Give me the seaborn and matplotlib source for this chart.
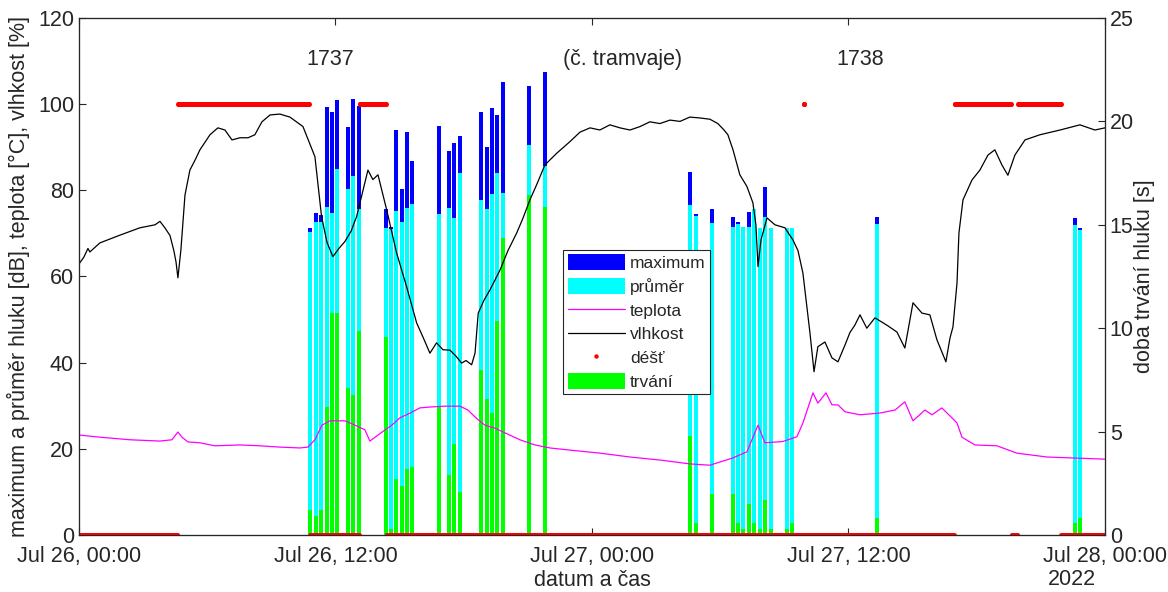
import matplotlib
matplotlib.use("Agg")
import numpy as np
import pandas as pd
import matplotlib.pyplot as plt
from matplotlib.patches import Patch
from matplotlib.lines import Line2D
import seaborn as sns

sns.set_style("ticks")
plt.rcParams["font.family"] = ["Liberation Sans", "DejaVu Sans"]

START = pd.Timestamp("2022-07-26 00:00")

# ---- noise events (hours after Jul 26 00:00) ----
bar_hours = [10.81, 11.07, 11.32, 11.59, 11.84, 12.08, 12.58, 12.83, 13.09,
             14.36, 14.60, 14.84, 15.10, 15.35, 15.59,
             16.84, 17.31, 17.56, 17.81,
             18.83, 19.07, 19.34, 19.57, 19.82,
             21.07, 21.82,
             28.58, 28.85, 29.60, 30.61, 30.84, 31.08, 31.35, 31.58, 31.86,
             32.11, 32.36, 33.14, 33.37,
             37.32, 46.60, 46.83]
noise_max = [71.2, 74.8, 74.3, 99.4, 98.1, 101.0, 94.6, 101.1, 99.6,
             75.6, 71.5, 93.9, 80.2, 93.5, 86.8,
             94.9, 89.1, 90.9, 92.7,
             98.1, 90.0, 99.0, 97.5, 105.2,
             104.2, 107.5,
             84.3, 74.5, 75.7, 73.7, 72.7, 71.6, 74.9, 75.7, 71.2,
             80.7, 71.2, 71.2, 71.2,
             73.7, 73.5, 71.2]
noise_avg = [70.4, 72.7, 72.7, 76.1, 74.8, 84.9, 80.3, 83.3, 75.7,
             71.2, 71.0, 75.1, 72.7, 75.8, 76.8,
             74.5, 76.0, 73.5, 84.0,
             77.8, 75.6, 79.1, 84.0, 79.3,
             90.5, 85.7,
             76.5, 74.0, 72.5, 71.4, 72.3, 71.6, 71.4, 75.6, 71.2,
             73.7, 71.2, 71.2, 71.2,
             72.3, 72.0, 70.8]
duration_s = [1.21, 0.92, 1.21, 6.17, 10.75, 10.75, 7.09, 6.77, 9.86,
              9.59, 0.27, 2.69, 2.37, 3.18, 3.30,
              6.17, 2.90, 4.40, 2.09,
              7.98, 6.56, 5.88, 10.36, 14.35,
              16.44, 15.88,
              4.79, 0.60, 1.98, 1.98, 0.60, 0.28, 1.50, 0.60, 0.28,
              1.69, 0.28, 0.28, 0.60,
              0.81, 0.60, 0.81]

# ---- humidity [%] (hour, value) ----
humidity = [(0.00, 62.9), (0.23, 64.5), (0.42, 66.5), (0.51, 65.7), (0.98, 67.8),
            (1.92, 69.6), (2.85, 71.3), (3.56, 72.0), (3.79, 72.8), (4.02, 71.3),
            (4.26, 69.5), (4.44, 66.0), (4.54, 63.4), (4.63, 59.7), (4.77, 66.2),
            (4.96, 78.9), (5.19, 84.7), (5.43, 87.0), (5.66, 89.4), (6.13, 92.9),
            (6.50, 94.5), (6.83, 94.0), (7.16, 91.7), (7.53, 92.2), (7.91, 92.2),
            (8.23, 92.9), (8.56, 95.9), (8.94, 97.5), (9.40, 97.7), (9.87, 97.0),
            (10.48, 94.8), (11.04, 87.8), (11.35, 73.9), (11.60, 68.0), (11.88, 64.6),
            (12.16, 66.5), (12.44, 68.1), (12.73, 70.5), (12.99, 73.9), (13.24, 79.0),
            (13.52, 84.7), (13.75, 82.5), (13.99, 83.6), (14.40, 75.4), (14.86, 65.5),
            (15.33, 57.6), (15.80, 49.2), (16.09, 46.0), (16.42, 42.2), (16.73, 44.6),
            (17.03, 43.0), (17.36, 42.9), (17.64, 41.5), (17.90, 39.9), (18.11, 40.5),
            (18.37, 39.5), (18.53, 42.2), (18.68, 51.5), (18.95, 54.5), (19.23, 56.9),
            (19.70, 61.5), (20.07, 66.0), (20.48, 70.1), (20.77, 73.5), (21.10, 77.8),
            (21.43, 81.5), (21.80, 85.9), (22.35, 88.6), (22.97, 91.3), (23.44, 93.5),
            (23.91, 94.5), (24.37, 94.0), (24.84, 95.2), (25.31, 94.5), (25.78, 94.0),
            (26.25, 94.8), (26.71, 95.9), (27.18, 95.5), (27.65, 96.3), (28.12, 96.0),
            (28.58, 97.0), (29.05, 96.8), (29.52, 96.5), (29.89, 95.5), (30.18, 94.0),
            (30.36, 92.9), (30.60, 89.4), (30.92, 83.6), (31.25, 80.9), (31.53, 77.1),
            (31.67, 72.0), (31.77, 62.3), (31.91, 68.5), (32.19, 73.6), (32.56, 72.0),
            (33.03, 71.3), (33.40, 68.5), (33.64, 66.0), (33.87, 60.8), (34.20, 46.9),
            (34.39, 37.9), (34.57, 43.7), (34.90, 44.8), (35.23, 41.1), (35.51, 40.2),
            (35.84, 44.1), (36.07, 47.0), (36.30, 48.7), (36.54, 51.1), (36.86, 48.0),
            (37.24, 50.4), (37.80, 48.7), (38.27, 47.1), (38.64, 43.4), (39.02, 53.9),
            (39.44, 51.5), (39.81, 51.1), (40.14, 45.3), (40.56, 40.2), (40.75, 45.7),
            (40.89, 48.3), (41.08, 58.5), (41.17, 70.1), (41.36, 77.8), (41.78, 82.4),
            (42.15, 84.7), (42.53, 88.2), (42.85, 89.4), (43.18, 85.9), (43.46, 83.5),
            (43.79, 88.2), (44.26, 91.7), (44.96, 92.9), (45.90, 94.0), (46.83, 95.2),
            (47.53, 94.0), (48.00, 94.5)]

# ---- temperature [°C] (hour, value) ----
temperature = [(0.00, 23.2), (0.98, 22.7), (2.39, 22.1), (3.79, 21.8), (4.35, 22.1),
               (4.63, 23.9), (4.82, 22.7), (5.10, 21.6), (5.66, 21.4), (6.36, 20.7),
               (7.53, 20.9), (8.47, 20.7), (9.40, 20.4), (10.34, 20.2), (10.71, 20.4),
               (11.04, 22.1), (11.37, 25.5), (11.74, 26.5), (12.44, 26.5), (12.91, 25.5),
               (13.38, 24.4), (13.61, 21.8), (13.94, 23.0), (14.32, 24.4), (14.64, 25.5),
               (15.02, 27.2), (15.49, 28.3), (15.95, 29.5), (16.42, 29.7), (17.12, 29.9),
               (17.82, 29.9), (18.20, 29.0), (18.57, 27.2), (18.99, 25.5), (19.46, 24.8),
               (19.93, 23.7), (20.63, 22.1), (21.33, 20.9), (22.04, 20.2), (22.97, 19.7),
               (24.37, 19.0), (25.78, 18.1), (27.18, 17.4), (28.58, 16.5), (29.52, 16.2),
               (30.60, 17.9), (31.25, 19.3), (31.77, 25.5), (32.09, 21.4), (32.93, 21.7),
               (33.59, 22.8), (33.87, 26.0), (34.34, 33.0), (34.57, 30.6), (34.95, 33.0),
               (35.23, 30.2), (35.51, 30.2), (35.84, 28.6), (36.54, 27.9), (37.47, 28.3),
               (38.18, 29.0), (38.64, 30.9), (39.02, 26.5), (39.58, 29.0), (39.91, 27.9),
               (40.37, 29.5), (40.84, 27.2), (41.08, 26.0), (41.31, 22.7), (41.92, 20.9),
               (42.95, 20.7), (43.88, 19.0), (45.29, 18.1), (48.00, 17.6)]

# ---- rain periods (start hour, end hour), plotted as 100 when raining ----
rain_intervals = [(4.63, 10.76), (13.15, 14.36), (33.92, 33.92),
                  (40.98, 43.60), (43.93, 45.94)]

tick_hours = [0, 12, 24, 36, 48]
tick_labels = ["Jul 26, 00:00", "Jul 26, 12:00", "Jul 27, 00:00",
               "Jul 27, 12:00", "Jul 28, 00:00"]
annotations = [("1737", 11.74), ("(č. tramvaje)", 25.45), ("1738", 36.54)]
legend_labels = ["maximum", "průměr", "teplota", "vlhkost", "déšť", "trvání"]

C_MAX, C_AVG, C_DUR = "#0000FF", "#00FFFF", "#00FF00"
C_TEMP, C_HUM, C_RAIN = "#FF00FF", "#000000", "#FF0000"
TXT = "#262626"
FS = 15.5


def to_time(h):
    return START + pd.to_timedelta(np.asarray(h, dtype=float), unit="h")


bars = pd.DataFrame({"time": to_time(bar_hours), "max": noise_max,
                     "avg": noise_avg, "dur": duration_s})
hum = pd.DataFrame(humidity, columns=["h", "v"])
hum["time"] = to_time(hum["h"])
tmp = pd.DataFrame(temperature, columns=["h", "v"])
tmp["time"] = to_time(tmp["h"])

grid_h = np.arange(0, 48 + 1e-9, 2 / 60)
rain_v = np.zeros_like(grid_h)
for a, b in rain_intervals:
    rain_v[(grid_h >= a - 0.02) & (grid_h <= b + 0.02)] = 100
rain = pd.DataFrame({"time": to_time(grid_h), "v": rain_v})

fig = plt.figure(figsize=(11.68, 5.92), dpi=100)
ax = fig.add_axes([0.0676, 0.0963, 0.8784, 0.8733])
ax2 = ax.twinx()
ax3 = ax.twinx()

BAR_W = 0.19 / 24
ax.bar(bars["time"], bars["max"], width=BAR_W, color=C_MAX, linewidth=0)
ax.bar(bars["time"], bars["avg"], width=BAR_W, color=C_AVG, linewidth=0)
ax2.bar(bars["time"], bars["dur"], width=BAR_W, color=C_DUR, linewidth=0)

sns.lineplot(data=tmp, x="time", y="v", ax=ax3, color=C_TEMP, linewidth=0.9)
sns.lineplot(data=hum, x="time", y="v", ax=ax3, color=C_HUM, linewidth=0.9)
sns.scatterplot(data=rain, x="time", y="v", ax=ax3, color=C_RAIN, s=13,
                linewidth=0, marker="o")

ax.set_xlim(START, START + pd.Timedelta(hours=48))
ax.set_ylim(0, 120)
ax2.set_ylim(0, 25)
ax3.set_ylim(0, 120)
ax3.yaxis.set_visible(False)
ax3.set_xlabel("")

ax.set_xticks(to_time(tick_hours))
ax.set_xticklabels(tick_labels)
ax.set_yticks(range(0, 121, 20))
ax2.set_yticks(range(0, 26, 5))
ax.tick_params(axis="x", direction="in", top=True, length=5, pad=8,
               labelsize=FS, colors=TXT)
ax.tick_params(axis="y", direction="in", length=5, labelsize=FS, colors=TXT)
ax2.tick_params(axis="y", direction="in", length=5, labelsize=FS, colors=TXT)

for a in (ax, ax2, ax3):
    for s in a.spines.values():
        s.set_color(TXT)
        s.set_linewidth(0.8)

ax.set_xlabel("datum a čas", fontsize=FS, color=TXT, labelpad=2)
ax.set_ylabel("maximum a průměr hluku [dB], teplota [°C], vlhkost [%]",
              fontsize=FS, color=TXT, labelpad=6)
ax2.set_ylabel("doba trvání hluku [s]", fontsize=FS, color=TXT, labelpad=0)

ax.text(0.968, -0.087, "2022", transform=ax.transAxes, ha="center",
        va="center", fontsize=FS, color=TXT)
for txt, h in annotations:
    ax3.text(to_time([h])[0], 110.3, txt, ha="center", va="center",
             fontsize=FS, color=TXT)

handles = [Patch(facecolor=C_MAX, edgecolor="none"),
           Patch(facecolor=C_AVG, edgecolor="none"),
           Line2D([], [], color=C_TEMP, lw=0.9),
           Line2D([], [], color=C_HUM, lw=0.9),
           Line2D([], [], color=C_RAIN, marker="o", markersize=3.2,
                  linestyle="none", markeredgewidth=0),
           Patch(facecolor=C_DUR, edgecolor="none")]
leg = ax3.legend(handles, legend_labels, loc="upper left",
                 bbox_to_anchor=(0.472, 0.551), fontsize=12.5, frameon=True,
                 fancybox=False, edgecolor=TXT, framealpha=1,
                 handlelength=3.3, handleheight=1.0, labelspacing=0.4,
                 handletextpad=0.3, borderpad=0.25, borderaxespad=0)
leg.get_frame().set_linewidth(0.8)
for t in leg.get_texts():
    t.set_color(TXT)

fig.savefig("out.png", dpi=100)
